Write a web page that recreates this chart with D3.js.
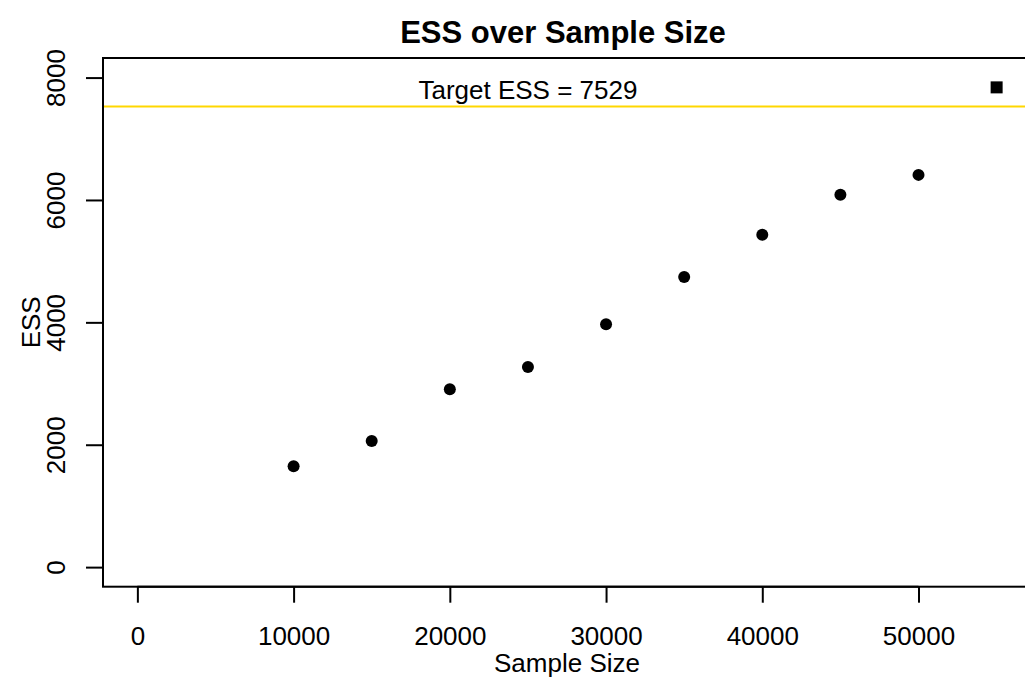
<!DOCTYPE html>
<html>
<head>
<meta charset="utf-8">
<script src="https://cdn.jsdelivr.net/npm/d3@7/dist/d3.min.js"></script>
<style>
body{
margin:0;
background-color:white;
font-family:"Liberation Sans",Arial,sans-serif;
}
svg{display:block;}
</style>
</head>
<body>
<div id="chart"></div>
<script>
// values
var sampleSize = [10000,15000,20000,25000,30000,35000,40000,45000,50000]
var ess = [1650,2060,2905,3270,3970,4740,5430,6085,6410]
var finalSize = [55000]
var finalEss = [7840]
var targetEss = 7529
var xTicks = [0,10000,20000,30000,40000,50000]
var yTicks = [0,2000,4000,6000,8000]

var W = 1025, H = 684
var fontSize = 26
var lineColor = "black"
var targetColor = "#FFD700"

var svg = d3.select("#chart")
.append("svg")
.attr("width",W)
.attr("height",H)

// R style: limits 0..55000 and 0..8000 plus 4% each side
var x = d3.scaleLinear().domain([-2200,57200]).range([103,1031])
var y = d3.scaleLinear().domain([-320,8320]).range([586.7,58])

// target line
svg.append("line")
.attr("x1",x.range()[0])
.attr("x2",x.range()[1])
.attr("y1",y(targetEss))
.attr("y2",y(targetEss))
.attr("stroke",targetColor)
.attr("stroke-width",2)

svg.append("text")
.attr("x",x(25000))
.attr("y",y(targetEss)-7)
.attr("text-anchor","middle")
.attr("font-size",fontSize)
.text("Target ESS = " + targetEss)

// points
svg.selectAll(".pt")
.data(sampleSize)
.enter()
.append("circle")
.attr("class","pt")
.attr("cx",function(d){return x(d)})
.attr("cy",function(d,i){return y(ess[i])})
.attr("r",6)
.attr("fill",lineColor)

svg.selectAll(".sq")
.data(finalSize)
.enter()
.append("rect")
.attr("class","sq")
.attr("x",function(d){return x(d)-6})
.attr("y",function(d,i){return y(finalEss[i])-6})
.attr("width",12)
.attr("height",12)
.attr("fill",lineColor)

// box
svg.append("rect")
.attr("x",x.range()[0])
.attr("y",y.range()[1])
.attr("width",x.range()[1]-x.range()[0])
.attr("height",y.range()[0]-y.range()[1])
.attr("fill","none")
.attr("stroke",lineColor)
.attr("stroke-width",2)

// x axis
var xAxis = svg.append("g")
.attr("transform","translate(0,"+y.range()[0]+")")
.call(d3.axisBottom(x).tickValues(xTicks).tickSize(16).tickPadding(0).tickFormat(d3.format("d")))
xAxis.select(".domain").remove()
xAxis.selectAll(".tick line").attr("stroke",lineColor).attr("stroke-width",2)
xAxis.selectAll(".tick text")
.attr("font-family","Liberation Sans,Arial,sans-serif")
.attr("font-size",fontSize)
.attr("fill",lineColor)
.attr("dy",null)
.attr("y",58)
xAxis.append("line")
.attr("x1",x(xTicks[0])).attr("x2",x(xTicks[xTicks.length-1]))
.attr("stroke",lineColor).attr("stroke-width",2)

// y axis
var yAxis = svg.append("g")
.attr("transform","translate("+x.range()[0]+",0)")
.call(d3.axisLeft(y).tickValues(yTicks).tickSize(17).tickFormat(d3.format("d")))
yAxis.select(".domain").remove()
yAxis.selectAll(".tick line").attr("stroke",lineColor).attr("stroke-width",2)
yAxis.selectAll(".tick text")
.attr("font-family","Liberation Sans,Arial,sans-serif")
.attr("font-size",fontSize)
.attr("fill",lineColor)
.attr("x",null).attr("dy",null)
.attr("text-anchor","middle")
.attr("transform","translate(-38,0) rotate(-90)")

// titles
svg.append("text")
.attr("x",(x.range()[0]+1031)/2 - 4)
.attr("y",43)
.attr("text-anchor","middle")
.attr("font-size",31)
.attr("font-weight","bold")
.text("ESS over Sample Size")

svg.append("text")
.attr("x",x(27500))
.attr("y",672)
.attr("text-anchor","middle")
.attr("font-size",fontSize)
.text("Sample Size")

svg.append("text")
.attr("transform","translate(40,"+y(4000)+") rotate(-90)")
.attr("text-anchor","middle")
.attr("font-size",fontSize)
.text("ESS")
</script>
</body>
</html>
